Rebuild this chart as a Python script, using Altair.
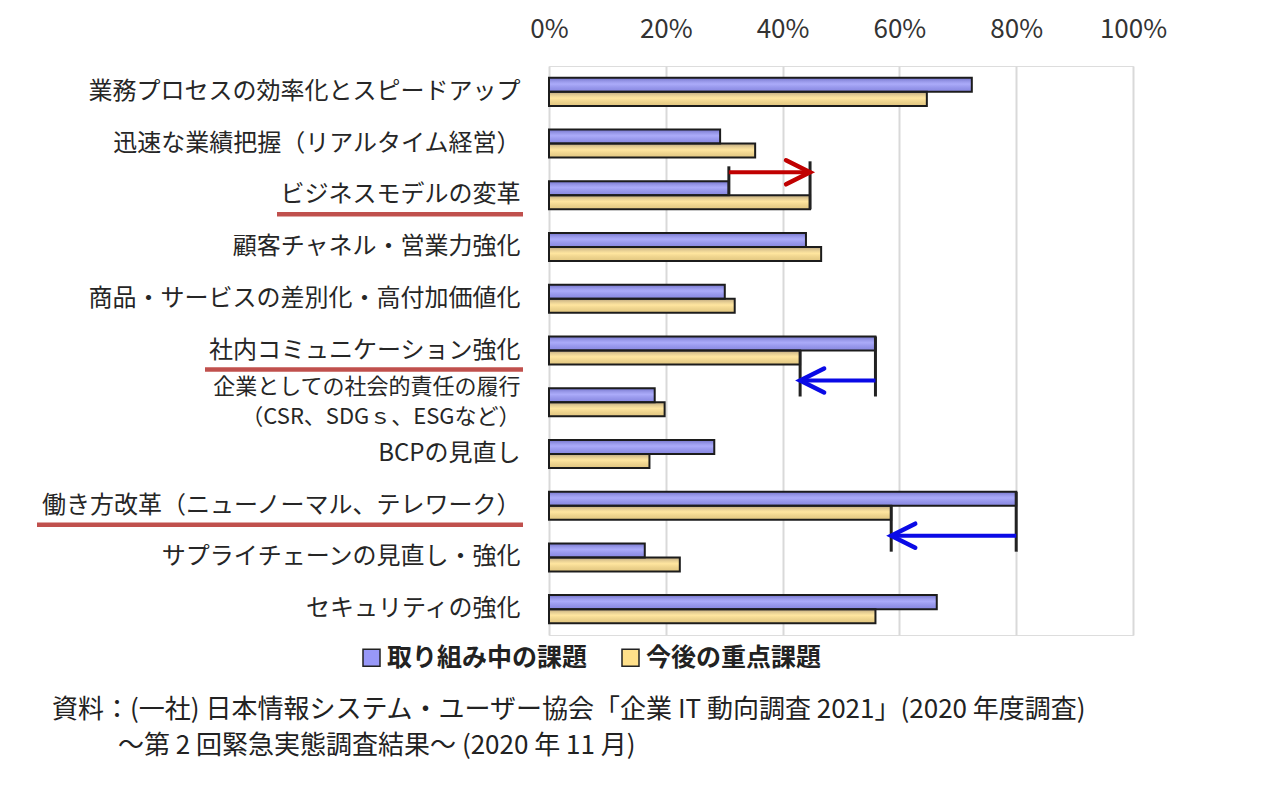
import altair as alt
import pandas as pd

# ---------------- data ----------------
categories = [
    "業務プロセスの効率化とスピードアップ",
    "迅速な業績把握（リアルタイム経営）",
    "ビジネスモデルの変革",
    "顧客チャネル・営業力強化",
    "商品・サービスの差別化・高付加価値化",
    "社内コミュニケーション強化",
    "企業としての社会的責任の履行|（CSR、SDGｓ、ESGなど）",
    "BCPの見直し",
    "働き方改革（ニューノーマル、テレワーク）",
    "サプライチェーンの見直し・強化",
    "セキュリティの強化",
]
series = ["取り組み中の課題", "今後の重点課題"]
current_values = [72.4, 29.3, 30.8, 44.0, 30.1, 55.9, 18.1, 28.3, 80.0, 16.4, 66.4]
future_values = [64.7, 35.3, 44.7, 46.6, 31.8, 43.0, 19.8, 17.2, 58.6, 22.4, 55.9]
x_ticks = [0, 20, 40, 60, 80, 100]
highlighted = ["ビジネスモデルの変革", "社内コミュニケーション強化", "働き方改革（ニューノーマル、テレワーク）"]
# (category, colour, position of arrow relative to the pair of bars)
arrows = [
    ("ビジネスモデルの変革", "#C00000", "above"),
    ("社内コミュニケーション強化", "#0A0AE6", "below"),
    ("働き方改革（ニューノーマル、テレワーク）", "#0A0AE6", "below"),
]
source_line1 = "資料：(一社) 日本情報システム・ユーザー協会「企業 IT 動向調査 2021」(2020 年度調査)"
source_line2 = "～第 2 回緊急実態調査結果～ (2020 年 11 月)"

FONT = "Noto Sans CJK JP"
W, H = 584, 569
LABEL_SIZE = 24
LABEL_PAD = 29

rows = []
for c, a, b in zip(categories, current_values, future_values):
    rows.append({"cat": c, "series": series[0], "value": a})
    rows.append({"cat": c, "series": series[1], "value": b})
df = pd.DataFrame(rows)

y_scale = alt.Scale(domain=categories, paddingInner=0.458, paddingOuter=0.229)
x_scale = alt.Scale(domain=[0, 100], nice=False, zero=True)

multi_test = "indexof(datum.value,'|')>=0"
y_enc = alt.Y(
    "cat:N",
    sort=categories,
    scale=y_scale,
    axis=alt.Axis(
        title=None,
        domain=False,
        ticks=False,
        labelPadding=LABEL_PAD,
        labelFont=FONT,
        labelFontSize={"condition": {"test": multi_test, "value": 22}, "value": LABEL_SIZE},
        labelOffset={"condition": {"test": multi_test, "value": -15}, "value": 0},
        labelColor="#262626",
        labelLimit=700,
        labelLineHeight=30,
        labelExpr="split(datum.label, '|')",
    ),
)
x_enc = alt.X(
    "value:Q",
    scale=x_scale,
    axis=alt.Axis(
        orient="top",
        title=None,
        values=x_ticks,
        labelExpr="datum.value + '%'",
        labelFont=FONT,
        labelFontSize=26,
        labelColor="#333333",
        labelPadding=24,
        labelFlush=False,
        labelOverlap=False,
        ticks=False,
        domain=False,
        grid=True,
        gridColor="#d9d9d9",
        gridWidth=2,
    ),
)

color_enc = alt.Color(
    "series:N",
    sort=series,
    scale=alt.Scale(domain=series, range=["#9898F8", "#FFE08A"]),
    legend=alt.Legend(
        title=None,
        orient="none",
        direction="horizontal",
        legendX=-190,
        legendY=579,
        labelFont=FONT,
        labelFontSize=25,
        labelFontWeight="bold",
        labelColor="#222222",
        symbolType="square",
        symbolSize=289,
        symbolStrokeColor="#222222",
        symbolStrokeWidth=1.5,
        symbolOpacity=1,
        labelOffset=3,
        columnPadding=30,
        labelLimit=400,
    ),
)
yoff = alt.YOffset("series:N", sort=series, scale=alt.Scale(domain=series, paddingInner=0, paddingOuter=0))

bars = alt.Chart(df).mark_bar(opacity=1).encode(y=y_enc, x=x_enc, yOffset=yoff, color=color_enc)

shade = {
    "gradient": "linear", "x1": 0, "y1": 0, "x2": 0, "y2": 1,
    "stops": [
        {"offset": 0.0, "color": "rgba(20,20,90,0.30)"},
        {"offset": 0.45, "color": "rgba(255,255,255,0.18)"},
        {"offset": 1.0, "color": "rgba(20,20,60,0.12)"},
    ],
}
bars_shade = alt.Chart(df).mark_bar(fill=shade, stroke="#1c1c1c", strokeWidth=2).encode(
    y=alt.Y("cat:N", sort=categories), x=alt.X("value:Q"), yOffset=yoff
)

layers = [bars, bars_shade]

# underlines below highlighted labels (length from label text)
for cat in highlighted:
    text_w = len(cat) * LABEL_SIZE
    x_right = -(LABEL_PAD - 3)
    x_left = -(LABEL_PAD + text_w + 3)
    layers.append(
        alt.Chart(pd.DataFrame({"cat": [cat]})).mark_rule(
            color="#C0504D", strokeWidth=4.5, yOffset=19
        ).encode(
            y=alt.Y("cat:N", sort=categories),
            x=alt.value(x_left),
            x2=alt.value(x_right),
        )
    )

# arrows between current and future values
for cat, col, pos in arrows:
    i = categories.index(cat)
    a, b = current_values[i], future_values[i]
    d = pd.DataFrame({"cat": [cat], "a": [a], "b": [b]})
    if pos == "above":
        ay = -23
        ticks = [(a, -29, 0), (b, -34, 14)]
    else:
        ay = 30
        ticks = [(a, -14, 46), (b, 0, 46)]
    for v, t0, t1 in ticks:
        dt = pd.DataFrame({"cat": [cat], "v": [v]})
        layers.append(
            alt.Chart(dt).mark_point(
                shape="M 0 -1 L 0 1", size=(t1 - t0) ** 2, yOffset=(t0 + t1) / 2,
                filled=False, stroke="#222222", strokeWidth=3, opacity=1,
            ).encode(y=alt.Y("cat:N", sort=categories), x=alt.X("v:Q"))
        )
    layers.append(
        alt.Chart(d).mark_rule(color=col, strokeWidth=4, yOffset=ay).encode(
            y=alt.Y("cat:N", sort=categories), x=alt.X("a:Q"), x2=alt.X2("b")
        )
    )
    head = "M -2 -1 L 0 0 L -2 1" if b > a else "M 2 -1 L 0 0 L 2 1"
    layers.append(
        alt.Chart(d).mark_point(
            shape=head, size=576, yOffset=ay, filled=False, stroke=col,
            strokeWidth=4.5, opacity=1, strokeCap="round", strokeJoin="miter",
        ).encode(y=alt.Y("cat:N", sort=categories), x=alt.X("b:Q"))
    )

# source note (two lines, second one indented)
for txt, px, py in [(source_line1, -497, 644), (source_line2, -431, 680)]:
    layers.append(
        alt.Chart(pd.DataFrame({"t": [txt]})).mark_text(
            font=FONT, fontSize=26, color="#222222", align="left", baseline="middle"
        ).encode(text="t:N", x=alt.value(px), y=alt.value(py))
    )

chart = alt.layer(*layers).properties(
    width=W,
    height=H,
    autosize=alt.AutoSizeParams(type="none"),
    padding={"left": 541, "top": 58, "right": 140, "bottom": 150},
).configure_view(stroke=None).configure(background="white")

chart.save("out.html", embed_options={"renderer": "svg", "actions": False})
